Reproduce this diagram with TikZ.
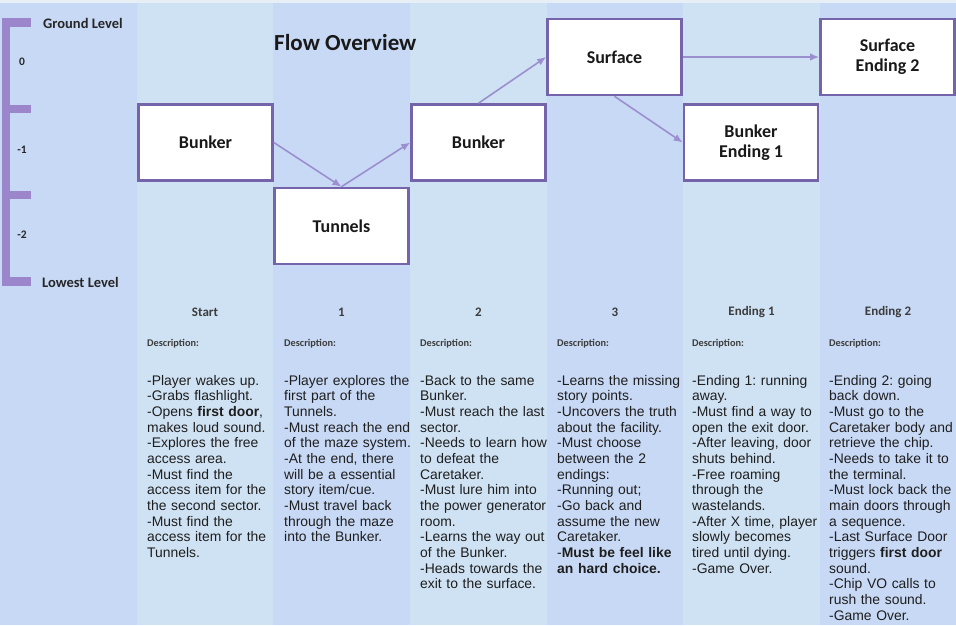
\documentclass[tikz,border=0pt]{standalone}
\usepackage{fontspec}
\setmainfont{Liberation Sans}
\newfontfamily\calfont{Carlito}
\usetikzlibrary{arrows.meta}
\frenchspacing
\definecolor{coldark}{RGB}{200,217,245}
\definecolor{collight}{RGB}{207,226,243}
\definecolor{topstrip}{RGB}{232,238,246}
\definecolor{boxborder}{RGB}{118,100,170}
\definecolor{arrowcol}{RGB}{155,143,208}
\definecolor{bracketcol}{RGB}{155,134,204}
\definecolor{bodytext}{RGB}{30,30,30}
\definecolor{headtext}{RGB}{60,60,60}
\tikzset{
  flowbox/.style={draw=boxborder, line width=2.6pt, fill=white, minimum width=134pt, minimum height=76pt, inner sep=0pt, align=center, text=black!90, font=\calfont\bfseries\fontsize{18}{22}\selectfont},
  flowarrow/.style={draw=arrowcol, line width=1.6pt, -{Latex[length=9pt,width=7.5pt]}},
  colhead/.style={anchor=center, inner sep=0pt, text=headtext, font=\calfont\bfseries\fontsize{13}{15}\selectfont},
  desclabel/.style={anchor=west, inner sep=0pt, text=headtext, font=\calfont\bfseries\fontsize{10.3}{12}\selectfont},
  bodybox/.style={anchor=base west, inner sep=0pt, text width=140pt, align=left, text=bodytext, font=\frenchspacing\fontsize{13.9}{15.67}\selectfont},
  levellabel/.style={anchor=west, inner sep=0pt, text=black!85, font=\calfont\bfseries\fontsize{14.5}{17}\selectfont},
  levelnum/.style={anchor=center, inner sep=0pt, text=black!85, font=\calfont\bfseries\fontsize{11.5}{13}\selectfont}
}
\begin{document}
\begin{tikzpicture}[x=1pt,y=-1pt]
\useasboundingbox (0,0) rectangle (956,625);
% columns
\fill[coldark] (0,0) rectangle (137,625);
\fill[collight] (137,0) rectangle (273,625);
\fill[coldark] (273,0) rectangle (410,625);
\fill[collight] (410,0) rectangle (547,625);
\fill[coldark] (547,0) rectangle (683,625);
\fill[collight] (683,0) rectangle (820,625);
\fill[coldark] (820,0) rectangle (956,625);
\fill[topstrip] (0,0) rectangle (956,3);
% level bracket
\fill[bracketcol] (2,18) rectangle (10,286);
\fill[bracketcol] (2,18) rectangle (31,27);
\fill[bracketcol] (2,105) rectangle (31,113);
\fill[bracketcol] (2,191) rectangle (31,199);
\fill[bracketcol] (2,277) rectangle (31,286);
\node[levellabel] (ground) at (43,23) {Ground Level};
\node[levellabel] (lowest) at (42,282) {Lowest Level};
\node[levelnum] (l0) at (22,62) {0};
\node[levelnum] (l1) at (22,150) {-1};
\node[levelnum] (l2) at (22,235) {-2};
% title
\node[anchor=west, inner sep=0pt, text=black!90, font=\calfont\bfseries\fontsize{23}{27}\selectfont] (title) at (274,43) {Flow Overview};
% boxes
\node[flowbox] (b1) at (205.5,142.5) {Bunker};
\node[flowbox] (tun) at (341.5,226) {Tunnels};
\node[flowbox] (b2) at (478.5,142.5) {Bunker};
\node[flowbox] (surf) at (614.5,57) {Surface};
\node[flowbox] (be1) at (751,142.5) {\raisebox{-2pt}{Bunker}\\Ending 1};
\node[flowbox] (se2) at (887.5,57) {\raisebox{-2pt}{Surface}\\Ending 2};
% arrows
\draw[flowarrow] (b1.east) -- (tun.north);
\draw[flowarrow] (tun.north) -- (b2.west);
\draw[flowarrow] (b2.north) -- (surf.west);
\draw[flowarrow] (surf.south) -- (be1.west);
\draw[flowarrow] (surf.east) -- (se2.west);
% column headers
\node[colhead] (h0) at (205,312) {Start};
\node[colhead] (h1) at (341.5,312) {1};
\node[colhead] (h2) at (478.5,312) {2};
\node[colhead] (h3) at (615,312) {3};
\node[colhead] (h4) at (751.5,312) {Ending 1};
\node[colhead] (h5) at (888,312) {Ending 2};
\node[desclabel] (d0) at (147,344) {Description:};
\node[desclabel] (d1) at (284,344) {Description:};
\node[desclabel] (d2) at (420,344) {Description:};
\node[desclabel] (d3) at (557,344) {Description:};
\node[desclabel] (d4) at (692,344) {Description:};
\node[desclabel] (d5) at (829,344) {Description:};
% bodies
\node[bodybox] (t0) at (147,385) {-Player wakes up.\\
-Grabs flashlight.\\
-Opens \textbf{first door},\\
makes loud sound.\\
-Explores the free\\
access area.\\
-Must find the\\
access item for the\\
the second sector.\\
-Must find the\\
access item for the\\
Tunnels.};
\node[bodybox] (t1) at (284,385) {-Player explores the\\
first part of the\\
Tunnels.\\
-Must reach the end\\
of the maze system.\\
-At the end, there\\
will be a essential\\
story item/cue.\\
-Must travel back\\
through the maze\\
into the Bunker.};
\node[bodybox] (t2) at (420,385) {-Back to the same\\
Bunker.\\
-Must reach the last\\
sector.\\
-Needs to learn how\\
to defeat the\\
Caretaker.\\
-Must lure him into\\
the power generator\\
room.\\
-Learns the way out\\
of the Bunker.\\
-Heads towards the\\
exit to the surface.};
\node[bodybox] (t3) at (557,385) {-Learns the missing\\
story points.\\
-Uncovers the truth\\
about the facility.\\
-Must choose\\
between the 2\\
endings:\\
-Running out;\\
-Go back and\\
assume the new\\
Caretaker.\\
-\textbf{Must be feel like}\\
\textbf{an hard choice.}};
\node[bodybox] (t4) at (692,385) {-Ending 1: running\\
away.\\
-Must find a way to\\
open the exit door.\\
-After leaving, door\\
shuts behind.\\
-Free roaming\\
through the\\
wastelands.\\
-After X time, player\\
slowly becomes\\
tired until dying.\\
-Game Over.};
\node[bodybox] (t5) at (829,385) {-Ending 2: going\\
back down.\\
-Must go to the\\
Caretaker body and\\
retrieve the chip.\\
-Needs to take it to\\
the terminal.\\
-Must lock back the\\
main doors through\\
a sequence.\\
-Last Surface Door\\
triggers \textbf{first door}\\
sound.\\
-Chip VO calls to\\
rush the sound.\\
-Game Over.};
\end{tikzpicture}
\end{document}
